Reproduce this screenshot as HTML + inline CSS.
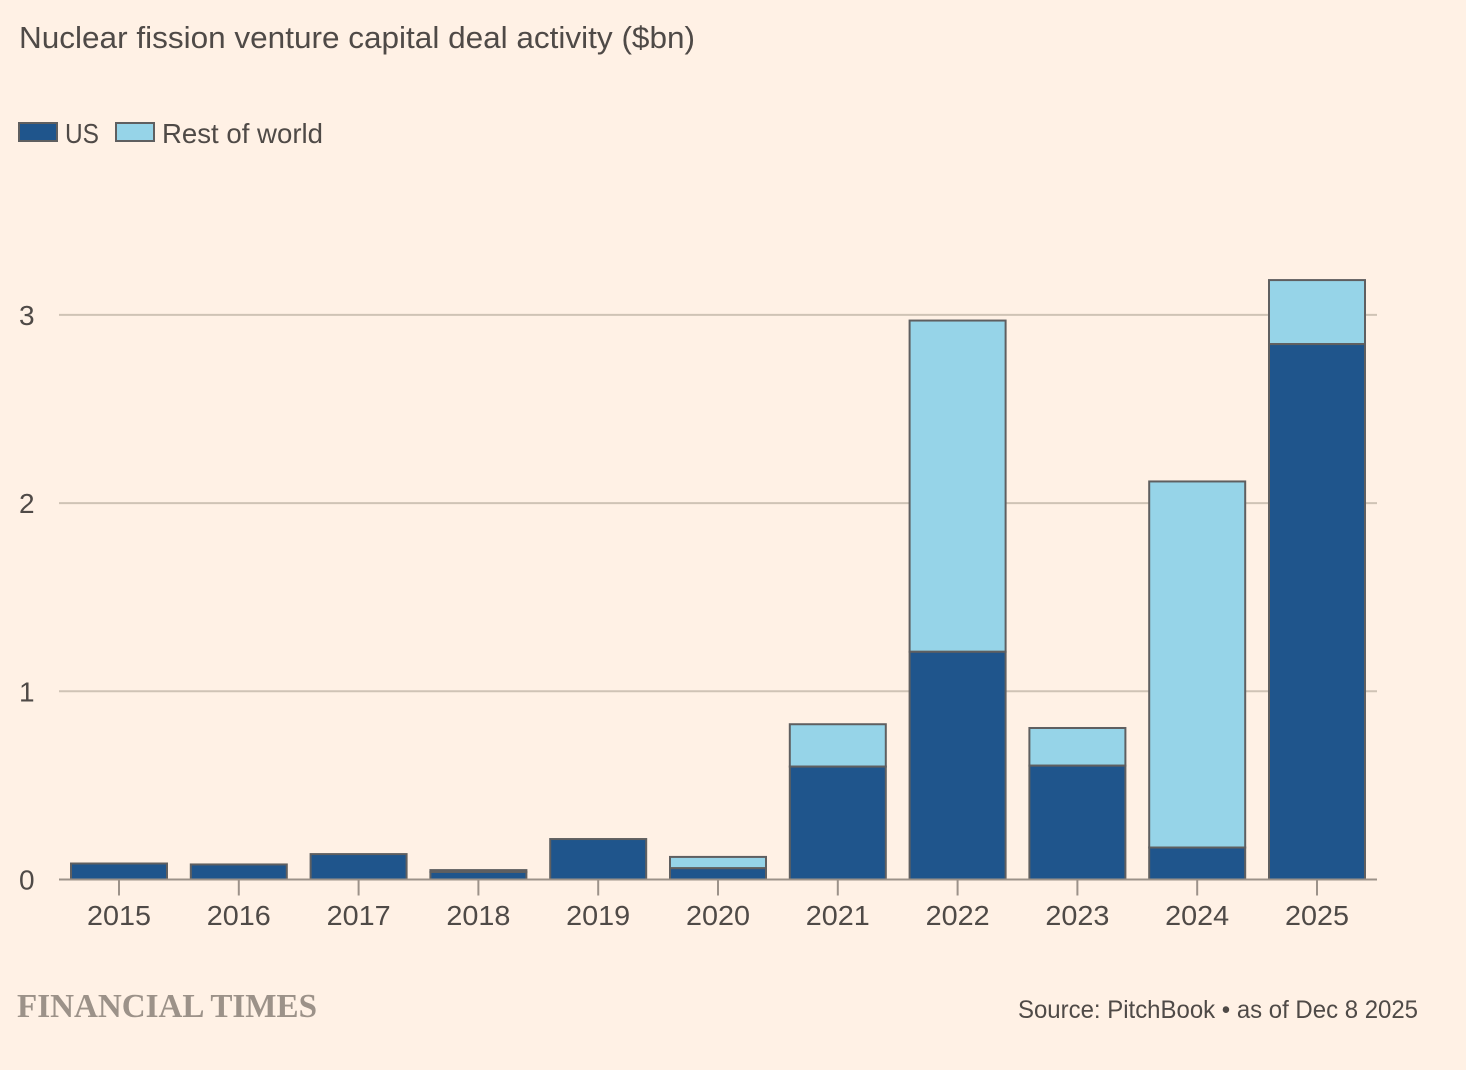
<!DOCTYPE html>
<html>
<head>
<meta charset="utf-8">
<style>
html,body{margin:0;padding:0;background:#fff1e5;}
svg{display:block;}
text{font-family:"Liberation Sans",sans-serif;fill:#4f4a47;}
</style>
</head>
<body>
<svg id="chart" xmlns="http://www.w3.org/2000/svg" width="1466" height="1070" viewBox="0 0 1466 1070">
<rect x="0" y="0" width="1466" height="1070" fill="#fff1e5"/>
<text x="19" y="48" font-size="31" textLength="676" lengthAdjust="spacingAndGlyphs">Nuclear fission venture capital deal activity ($bn)</text>
<g id="gridlines"></g>
<g id="bars"></g>
<g id="axes"></g>
<g>
<rect x="19" y="123" width="38" height="18" fill="#1f558c" stroke="#5f5f60" stroke-width="2"/>
<text x="65" y="143" font-size="28" textLength="34" lengthAdjust="spacingAndGlyphs">US</text>
<rect x="116" y="123" width="38" height="18" fill="#96d4e8" stroke="#5f5f60" stroke-width="2"/>
<text x="162" y="143" font-size="28" textLength="161" lengthAdjust="spacingAndGlyphs">Rest of world</text>
</g>
<text x="17" y="1017" font-size="34" font-weight="bold" textLength="300" lengthAdjust="spacingAndGlyphs" style="font-family:'Liberation Serif',serif;fill:#9c9289;">FINANCIAL TIMES</text>
<text x="1018" y="1018" font-size="25" textLength="400" lengthAdjust="spacingAndGlyphs">Source: PitchBook • as of Dec 8 2025</text>
</svg>
<script>
const categories = ["2015","2016","2017","2018","2019","2020","2021","2022","2023","2024","2025"];
const usValues = [0.085,0.08,0.135,0.04,0.215,0.06,0.6,1.21,0.605,0.17,2.845];
const restOfWorldValues = [0,0,0,0.01,0,0.06,0.225,1.76,0.2,1.945,0.34];
const yTicks = [0,1,2,3];

const NS = "http://www.w3.org/2000/svg";
const yScale = function(v){ return 879.5 - v * 188.2; };
const xScale = function(i){ return 119 + i * 119.8; };
const barWidth = 96;
const plotLeft = 59;
const plotRight = 1377;

function make(tag, attrs, parent, content){
  const el = document.createElementNS(NS, tag);
  for (const k in attrs) el.setAttribute(k, attrs[k]);
  if (content !== undefined) el.textContent = content;
  parent.appendChild(el);
  return el;
}

const gridG = document.getElementById("gridlines");
const barsG = document.getElementById("bars");
const axesG = document.getElementById("axes");

yTicks.forEach(function(t){
  if (t !== 0) {
    const line = make("line", {x1:plotLeft, x2:plotRight, y1:yScale(t), y2:yScale(t), stroke:"#cfc3b5", "stroke-width":2}, gridG);
    
    
  }
  const label = make("text", {x:19, y:yScale(t)+10, "font-size":28}, axesG, String(t));
  
  
});

categories.forEach(function(year, i){
  const cx = xScale(i);
  const left = cx - barWidth / 2;
  const usTop = yScale(usValues[i]);
  const totalTop = yScale(usValues[i] + restOfWorldValues[i]);
  if (restOfWorldValues[i] > 0) {
    const row = make("rect", {x:left, y:totalTop, width:barWidth, height:usTop-totalTop, fill:"#96d4e8", stroke:"#5f5f60", "stroke-width":2}, barsG);
    
    
  }
  const us = make("rect", {x:left, y:usTop, width:barWidth, height:yScale(0)-usTop, fill:"#1f558c", stroke:"#5f5f60", "stroke-width":2}, barsG);
  
  
  const tick = make("line", {x1:cx, x2:cx, y1:yScale(0), y2:yScale(0)+16, stroke:"#9c9289", "stroke-width":2}, axesG);
  
  
  const label = make("text", {x:cx, y:925, "font-size":28, "text-anchor":"middle", textLength:64, lengthAdjust:"spacingAndGlyphs"}, axesG, year);
  
  
});

const baseline = make("line", {x1:plotLeft, x2:plotRight, y1:yScale(0), y2:yScale(0), stroke:"#9c9289", "stroke-width":2}, axesG);


</script>
</body>
</html>
